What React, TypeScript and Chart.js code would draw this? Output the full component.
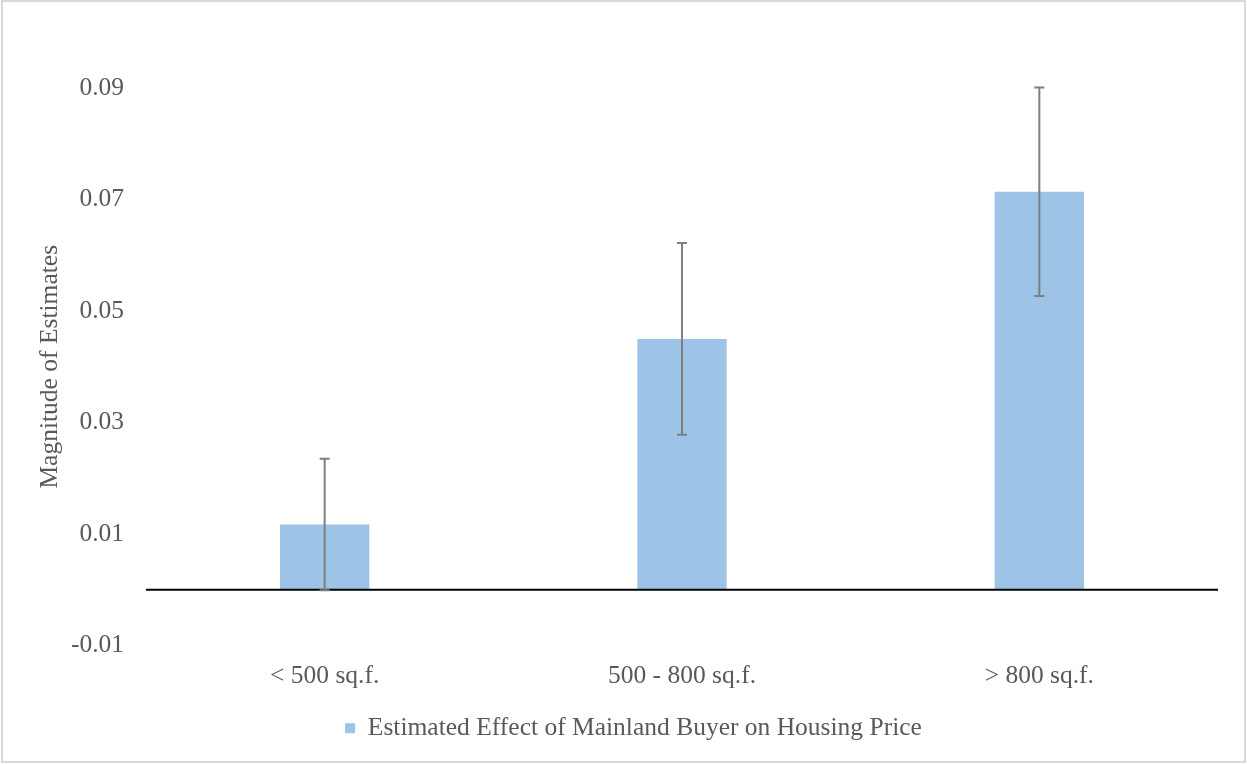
import React, { useEffect, useRef } from "react";
import { Chart, registerables } from "chart.js";

Chart.register(...registerables);

const categories = ["< 500 sq.f.", "500 - 800 sq.f.", "> 800 sq.f."];
const estimates = [0.0117, 0.045, 0.0714];
const errorMargins = [0.0118, 0.0172, 0.0187];
const yTicks = [-0.01, 0.01, 0.03, 0.05, 0.07, 0.09];
const seriesLabel = "Estimated Effect of Mainland Buyer on Housing Price";
const yTitle = "Magnitude of Estimates";

const FONT = "'Liberation Serif', 'Times New Roman', serif";
const TEXT = "#595959";
const FS = 25.5;

const overlayPlugin = {
  id: "overlay",
  beforeDraw(chart: any) {
    const { ctx, width, height } = chart;
    ctx.save();
    ctx.fillStyle = "#ffffff";
    ctx.fillRect(0, 0, width, height);
    ctx.restore();
  },
  afterDatasetsDraw(chart: any) {
    const { ctx, chartArea, scales } = chart;
    const y = scales.y;
    const y0 = y.getPixelForValue(0);
    ctx.save();
    // zero axis line
    ctx.strokeStyle = "#000000";
    ctx.lineWidth = 2;
    ctx.beginPath();
    ctx.moveTo(chartArea.left, y0);
    ctx.lineTo(chartArea.right, y0);
    ctx.stroke();
    // error bars
    const meta = chart.getDatasetMeta(0);
    ctx.strokeStyle = "#7f7f7f";
    ctx.lineWidth = 2;
    meta.data.forEach((bar: any, i: number) => {
      const x = bar.x;
      const hi = y.getPixelForValue(estimates[i] + errorMargins[i]);
      const lo = y.getPixelForValue(estimates[i] - errorMargins[i]);
      ctx.beginPath();
      ctx.moveTo(x, hi);
      ctx.lineTo(x, lo);
      ctx.moveTo(x - 5, hi);
      ctx.lineTo(x + 5, hi);
      ctx.moveTo(x - 5, lo);
      ctx.lineTo(x + 5, lo);
      ctx.stroke();
    });
    ctx.restore();
  },
  afterDraw(chart: any) {
    const { ctx, width, height } = chart;
    ctx.save();
    ctx.strokeStyle = "#d9d9d9";
    ctx.lineWidth = 2;
    ctx.strokeRect(2, 1, width - 4, height - 3);
    ctx.restore();
  },
};

export default function App() {
  const ref = useRef<HTMLCanvasElement>(null);
  useEffect(() => {
    if (!ref.current) return;
    const chart = new Chart(ref.current, {
      type: "bar",
      data: {
        labels: categories,
        datasets: [
          {
            label: seriesLabel,
            data: estimates,
            backgroundColor: "#9dc3e6",
            borderWidth: 0,
            barPercentage: 0.25,
            categoryPercentage: 1,
          },
        ],
      },
      options: {
        responsive: false,
        animation: false,
        devicePixelRatio: 1,
        layout: { padding: { left: 20, right: 0, top: 88, bottom: 13 } },
        plugins: {
          tooltip: { enabled: false },
          legend: {
            position: "bottom",
            labels: {
              boxWidth: 10,
              boxHeight: 10,
              color: TEXT,
              font: { family: FONT, size: FS },
              padding: 10,
            },
          },
        },
        scales: {
          x: {
            grid: { display: false, drawTicks: false },
            border: { display: false },
            ticks: {
              color: TEXT,
              font: { family: FONT, size: FS },
              padding: 15,
              maxRotation: 0,
            },
            afterFit(s: any) {
              s.height = 60;
            },
          },
          y: {
            min: -0.01,
            max: 0.09,
            grid: { display: false, drawTicks: false },
            border: { display: false },
            afterBuildTicks(s: any) {
              s.ticks = yTicks.map((v) => ({ value: v }));
            },
            ticks: {
              color: TEXT,
              font: { family: FONT, size: FS },
              padding: 22,
              callback: (v: any) => Number(v).toFixed(2),
            },
            title: {
              display: true,
              text: yTitle,
              color: TEXT,
              font: { family: FONT, size: FS, weight: "normal" },
              padding: { top: 15, bottom: 0 },
            },
            afterFit(s: any) {
              s.width = 126;
            },
          },
          yRight: {
            position: "right",
            display: true,
            min: -0.01,
            max: 0.09,
            grid: { display: false, drawTicks: false },
            border: { display: false },
            ticks: { display: false },
            afterFit(s: any) {
              s.width = 29;
            },
          },
        },
      },
      plugins: [overlayPlugin],
    });
    return () => chart.destroy();
  }, []);
  return (
    <div style={{ position: "absolute", left: 0, top: 0, width: 1247, height: 764 }}>
      <canvas ref={ref} width={1247} height={764} style={{ display: "block" }} />
    </div>
  );
}
